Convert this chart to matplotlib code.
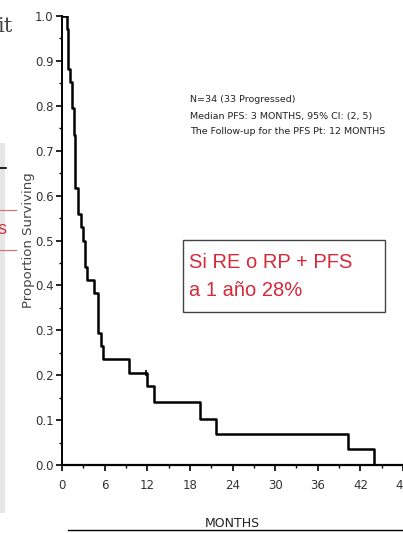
import matplotlib.pyplot as plt
from matplotlib.ticker import MultipleLocator
from matplotlib.patches import Rectangle

# Kaplan-Meier PFS curve
months = [0, 0.65, 0.9, 1.1, 1.35, 1.7, 1.9, 2.3, 2.65, 3.0, 3.3, 3.5, 4.5, 5.0, 5.5, 5.8,
          9.4, 12.0, 12.9, 19.4, 21.7, 40.3, 43.9]
surviving = [1.0, 0.971, 0.882, 0.853, 0.794, 0.735, 0.618, 0.559, 0.529, 0.500, 0.441, 0.412,
             0.382, 0.294, 0.265, 0.235, 0.206, 0.176, 0.140, 0.103, 0.070, 0.035, 0.0]
censor_months = [11.8]
censor_surv = [0.206]

info_lines = ["N=34 (33 Progressed)",
              "Median PFS: 3 MONTHS, 95% CI: (2, 5)",
              "The Follow-up for the PFS Pt: 12 MONTHS"]
x_ticks = [0, 6, 12, 18, 24, 30, 36, 42, 48]
y_ticks = [0.0, 0.1, 0.2, 0.3, 0.4, 0.5, 0.6, 0.7, 0.8, 0.9, 1.0]

narrow = ['Liberation Sans Narrow', 'DejaVu Sans']
tick_gray = '#333333'

fig = plt.figure(figsize=(4.03, 5.33), dpi=100)

# bits of the neighbouring slide panel on the left
fig.patches.append(Rectangle((0, 20 / 533), 5 / 403, 370 / 533, transform=fig.transFigure,
                             facecolor='#e6e6e6', edgecolor='none'))
fig.add_artist(plt.Line2D([0, 6 / 403], [1 - 168 / 533] * 2, color='black', lw=1.2))
fig.add_artist(plt.Line2D([0, 16 / 403], [1 - 210 / 533] * 2, color='#d9707a', lw=0.9))
fig.add_artist(plt.Line2D([0, 16 / 403], [1 - 250 / 533] * 2, color='#d9707a', lw=0.9))
fig.text(-2 / 403, 1 - 230 / 533, 's', color='#d03040', fontsize=13,
         family='Liberation Sans', va='center', ha='left')
fig.text(-3 / 403, 1 - 27 / 533, 'it', color='#444444', fontsize=15,
         family='DejaVu Serif', va='center', ha='left')

ax = fig.add_axes([62 / 403, 1 - 465 / 533, 341 / 403, 449 / 533])
ax.step(months, surviving, where='post', color='black', lw=1.8)
ax.plot(censor_months, censor_surv, marker='|', ms=5, mew=1.2, color='black', ls='none')

ax.set_xlim(0, 341 / 7.17)
ax.set_ylim(0, 1.0)
ax.set_xticks(x_ticks)
ax.set_xticklabels([str(t) for t in x_ticks], family=narrow, fontsize=8.5, color=tick_gray)
ax.set_yticks(y_ticks)
ax.set_yticklabels([f'{t:.1f}' for t in y_ticks], family=narrow, fontsize=8.5, color=tick_gray)
ax.xaxis.set_minor_locator(MultipleLocator(3))
ax.yaxis.set_minor_locator(MultipleLocator(0.05))
ax.tick_params(which='major', direction='out', length=4, width=1.2)
ax.tick_params(axis='x', which='major', pad=6)
ax.tick_params(axis='y', which='major', pad=2)
ax.tick_params(which='minor', direction='out', length=2, width=1.0)

for side in ['top', 'right']:
    ax.spines[side].set_visible(False)
ax.spines['left'].set_linewidth(1.4)
ax.spines['bottom'].set_linewidth(1.6)
ax.patch.set_visible(False)

ax.set_ylabel('Proportion Surviving', family=narrow, fontsize=9.5, color='#444444', labelpad=0)
ax.set_xlabel('MONTHS', family=narrow, fontsize=9, color='#222222', labelpad=18)

for i, line in enumerate(info_lines):
    fig.text(190 / 403, 1 - (100 + 16 * i) / 533, line, family=narrow, fontsize=6.8,
             color='#222222', va='center', ha='left')

# red annotation box
fig.patches.append(Rectangle((183 / 403, 1 - 312 / 533), 202 / 403, 72 / 533,
                             transform=fig.transFigure, facecolor='white',
                             edgecolor='#444444', lw=1.0))
fig.text(189 / 403, 1 - 262 / 533, 'Si RE o RP + PFS', color='#d42a3a', fontsize=14.5,
         family='Liberation Sans', va='center', ha='left')
fig.text(189 / 403, 1 - 291 / 533, 'a 1 año 28%', color='#d42a3a', fontsize=14.5,
         family='Liberation Sans', va='center', ha='left')

# rule under the axis title
fig.add_artist(plt.Line2D([68 / 403, 1.0], [1 - 530 / 533] * 2, color='black', lw=1.0))

fig.savefig('out.png', dpi=100)
